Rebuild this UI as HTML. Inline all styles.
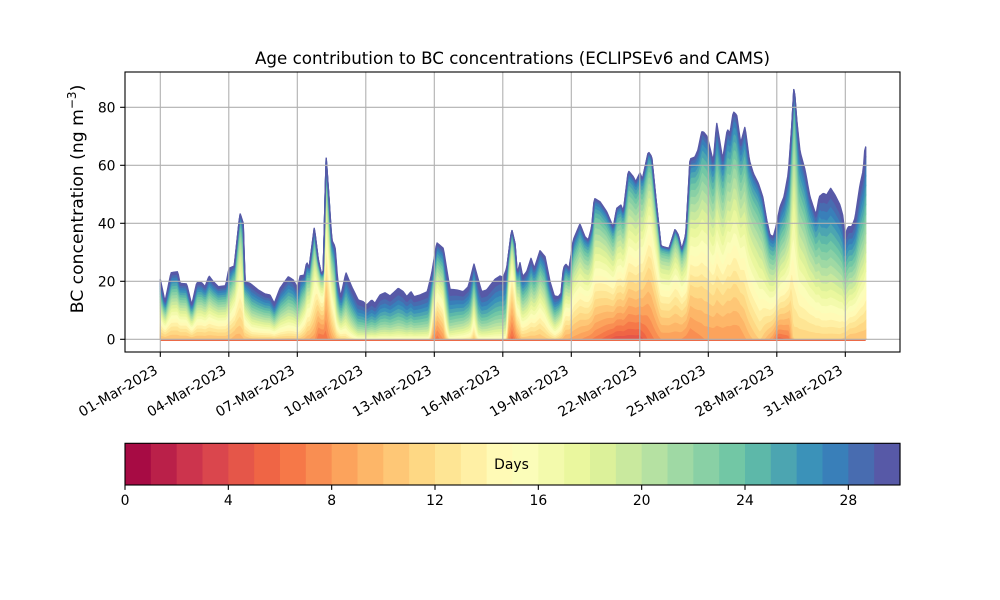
<!DOCTYPE html>
<html>
<head>
<meta charset="utf-8">
<style>
html,body{margin:0;padding:0;background:#fff;}
svg{display:block;}
text{font-family:"DejaVu Sans","Liberation Sans",sans-serif;fill:#000;}
</style>
</head>
<body>
<svg id="svg" width="1000" height="600" viewBox="0 0 1000 600" xmlns="http://www.w3.org/2000/svg">
<rect x="0" y="0" width="1000" height="600" fill="#fff"/>
<g id="layers"></g>
<line x1="160.3" y1="340.3" x2="865.7" y2="340.3" stroke="#ec6a48" stroke-width="1.5"/>
<g id="grid" stroke="#b0b0b0" stroke-width="1.1">
<line x1="125" y1="339.3" x2="900" y2="339.3"/>
<line x1="125" y1="281.3" x2="900" y2="281.3"/>
<line x1="125" y1="223.3" x2="900" y2="223.3"/>
<line x1="125" y1="165.3" x2="900" y2="165.3"/>
<line x1="125" y1="107.3" x2="900" y2="107.3"/>
<line x1="160.3" y1="72" x2="160.3" y2="352"/>
<line x1="228.8" y1="72" x2="228.8" y2="352"/>
<line x1="297.3" y1="72" x2="297.3" y2="352"/>
<line x1="365.8" y1="72" x2="365.8" y2="352"/>
<line x1="434.3" y1="72" x2="434.3" y2="352"/>
<line x1="502.8" y1="72" x2="502.8" y2="352"/>
<line x1="571.3" y1="72" x2="571.3" y2="352"/>
<line x1="639.8" y1="72" x2="639.8" y2="352"/>
<line x1="708.3" y1="72" x2="708.3" y2="352"/>
<line x1="776.8" y1="72" x2="776.8" y2="352"/>
<line x1="845.3" y1="72" x2="845.3" y2="352"/>
</g>
<rect x="125" y="72" width="775" height="280" fill="none" stroke="#000" stroke-width="1.1"/>
<g stroke="#000" stroke-width="1.1">
<line x1="120.1" y1="339.3" x2="125" y2="339.3"/>
<line x1="120.1" y1="281.3" x2="125" y2="281.3"/>
<line x1="120.1" y1="223.3" x2="125" y2="223.3"/>
<line x1="120.1" y1="165.3" x2="125" y2="165.3"/>
<line x1="120.1" y1="107.3" x2="125" y2="107.3"/>
<line x1="160.3" y1="352" x2="160.3" y2="356.9"/>
<line x1="228.8" y1="352" x2="228.8" y2="356.9"/>
<line x1="297.3" y1="352" x2="297.3" y2="356.9"/>
<line x1="365.8" y1="352" x2="365.8" y2="356.9"/>
<line x1="434.3" y1="352" x2="434.3" y2="356.9"/>
<line x1="502.8" y1="352" x2="502.8" y2="356.9"/>
<line x1="571.3" y1="352" x2="571.3" y2="356.9"/>
<line x1="639.8" y1="352" x2="639.8" y2="356.9"/>
<line x1="708.3" y1="352" x2="708.3" y2="356.9"/>
<line x1="776.8" y1="352" x2="776.8" y2="356.9"/>
<line x1="845.3" y1="352" x2="845.3" y2="356.9"/>
</g>
<g font-size="13.9" text-anchor="end">
<text x="115.5" y="344.3">0</text>
<text x="115.5" y="286.3">20</text>
<text x="115.5" y="228.3">40</text>
<text x="115.5" y="170.3">60</text>
<text x="115.5" y="112.3">80</text>
</g>
<g font-size="13.9" text-anchor="end">
<text transform="translate(158.7,372.9) rotate(-30)">01-Mar-2023</text>
<text transform="translate(227.2,372.9) rotate(-30)">04-Mar-2023</text>
<text transform="translate(295.7,372.9) rotate(-30)">07-Mar-2023</text>
<text transform="translate(364.2,372.9) rotate(-30)">10-Mar-2023</text>
<text transform="translate(432.7,372.9) rotate(-30)">13-Mar-2023</text>
<text transform="translate(501.2,372.9) rotate(-30)">16-Mar-2023</text>
<text transform="translate(569.7,372.9) rotate(-30)">19-Mar-2023</text>
<text transform="translate(638.2,372.9) rotate(-30)">22-Mar-2023</text>
<text transform="translate(706.7,372.9) rotate(-30)">25-Mar-2023</text>
<text transform="translate(775.2,372.9) rotate(-30)">28-Mar-2023</text>
<text transform="translate(843.7,372.9) rotate(-30)">31-Mar-2023</text>
</g>
<text x="512.5" y="64" font-size="16.7" text-anchor="middle">Age contribution to BC concentrations (ECLIPSEv6 and CAMS)</text>
<text transform="translate(83,199) rotate(-90)" font-size="17.2" text-anchor="middle">BC concentration (ng m<tspan font-size="12" dy="-7">−3</tspan><tspan dy="7">)</tspan></text>
<g id="cbar"></g>
<rect x="125" y="443.3" width="775" height="41.7" fill="none" stroke="#000" stroke-width="1.1"/>
<text x="511.5" y="469" font-size="13.9" text-anchor="middle">Days</text>
<g stroke="#000" stroke-width="1.1">
<line x1="125" y1="485" x2="125" y2="489.9"/>
<line x1="228.33" y1="485" x2="228.33" y2="489.9"/>
<line x1="331.67" y1="485" x2="331.67" y2="489.9"/>
<line x1="435" y1="485" x2="435" y2="489.9"/>
<line x1="538.33" y1="485" x2="538.33" y2="489.9"/>
<line x1="641.67" y1="485" x2="641.67" y2="489.9"/>
<line x1="745" y1="485" x2="745" y2="489.9"/>
<line x1="848.33" y1="485" x2="848.33" y2="489.9"/>
</g>
<g font-size="13.9" text-anchor="middle">
<text x="125" y="505">0</text>
<text x="228.33" y="505">4</text>
<text x="331.67" y="505">8</text>
<text x="435" y="505">12</text>
<text x="538.33" y="505">16</text>
<text x="641.67" y="505">20</text>
<text x="745" y="505">24</text>
<text x="848.33" y="505">28</text>
</g>
</svg>
<script>
(function(){
var NS="http://www.w3.org/2000/svg";
var anchors=[[158,1,66],[213,62,79],[244,109,67],[253,174,97],[254,224,139],[255,255,191],[230,245,152],[171,221,164],[102,194,165],[50,136,189],[94,79,162]];
function spectral(t){
  var p=t*10, i=Math.floor(p); if(i>=10){i=9;} var f=p-i;
  var a=anchors[i], b=anchors[i+1];
  return "rgb("+Math.round(a[0]+(b[0]-a[0])*f)+","+Math.round(a[1]+(b[1]-a[1])*f)+","+Math.round(a[2]+(b[2]-a[2])*f)+")";
}
var cols=[]; for(var k=0;k<30;k++){cols.push(spectral((k+0.5)/30));}
var cb=document.getElementById("cbar");
var sw=775/30;
for(var k=0;k<30;k++){
  var r=document.createElementNS(NS,"rect");
  r.setAttribute("x",(125+k*sw).toFixed(2));
  r.setAttribute("y","443.3");
  r.setAttribute("width",(sw+0.6).toFixed(2));
  r.setAttribute("height","41.7");
  r.setAttribute("fill",cols[k]);
  cb.appendChild(r);
}
var pts=[[160.3,279.5],[165,301.7],[171,272.7],[177.7,271.7],[180,283.3],[186.7,284],[191.7,305],[196.7,282.7],[201.7,282.7],[205,286.7],[209,276],[213.3,281.7],[218.3,286.7],[225.7,285.7],[229,268.3],[234.3,266],[240,213.3],[243.3,223.3],[245,281.7],[250,283.3],[258.3,290],[265,294],[270,295],[274.3,303.3],[280,288.3],[288.3,276.7],[293.3,280],[297.7,288.3],[300,276],[304.3,275],[306.7,261.7],[309,268.3],[314.3,227.3],[318.3,260],[321.7,275],[323.3,270],[326,156],[329,198.3],[331.7,240],[335,246.7],[337.7,280],[340.7,296.7],[346,272.7],[351.7,286.7],[358.3,300],[363.3,301.7],[366.7,305],[371.7,300],[375,303.3],[380,295],[385,292.7],[390,296],[398.3,288.3],[403.3,291.7],[406.7,296.7],[411,291.7],[414,296.7],[420,295],[427.3,291.7],[431.7,273.3],[436.7,242.7],[443.3,248.3],[447.3,273.3],[450,289.3],[456.7,290],[463.3,291.7],[468.3,286.7],[474,264],[479.3,283.3],[481.7,291.7],[486.7,290],[495,279.3],[500,276],[503.3,277.3],[506.7,268.3],[511.7,229.3],[515,243.3],[517.3,273.3],[520,262.7],[522.7,276.7],[526.7,271.7],[531,258.3],[534.3,268.3],[540,250.7],[545,256.7],[550,281.7],[554.3,296],[558.3,296.7],[561,293.3],[563.3,268.3],[565.7,264],[569,268.3],[573.3,240],[580,224],[585,236.7],[588.3,240],[591.7,227.3],[594.3,198.3],[600,201.7],[606.7,211.7],[613.3,227.3],[616.7,208.3],[621,205],[623.3,211.7],[628.3,170.7],[633.3,176.7],[635.7,181.7],[640,172.7],[642.3,179.3],[648.3,151.7],[651.7,156.7],[655.7,196.7],[661,246],[665,247.3],[669,248.3],[675,229.3],[678.3,235],[681.7,249.3],[685.7,235],[690,159],[695,157],[698,150],[701.7,132],[703.3,131.7],[707.3,136.7],[713.3,161.7],[716.7,122.7],[719.3,138.3],[722.7,159.3],[727.3,129.3],[730,133.3],[733.3,111.7],[736.7,115],[740.7,143.3],[745,126.7],[749.3,160],[753.3,173.3],[758.3,183.3],[762.7,196.7],[766.7,220],[770,235],[773.3,236.7],[776,226.7],[780,206.7],[784,196.7],[788.3,173.3],[791.7,126.7],[794,85.3],[796.7,120],[800,151.7],[805,170],[810,196.7],[816,215],[819.3,196.7],[823.3,193.3],[826.7,195],[830.7,188.3],[835,195],[840,205],[842.7,215],[845,235],[848.3,226.7],[851.7,226.7],[855,218.3],[860,185],[863.3,170],[865,146.7],[865.7,147]];
var par=[[160,10,0.9,1.1],[230,10,0.9,1.1],[235,9,1.1,1.8],[240,9,1.3,2.5],[245,10,1,1.3],[252,10,1.2,1],[300,10,1.2,1],[307,9,1.1,1.5],[314,8,1.2,2],[318,6,1,2],[322,6,1,2],[326,6,1.2,2.5],[331,8,1.1,1.8],[337,10,1.2,1.1],[346,11,1.3,1],[358,13,1.6,0.9],[428,13,1.6,0.9],[432,8,1,1.2],[437,6,1,1.3],[444,8,1,1.2],[450,13,1.6,0.9],[470,12,1.4,1],[474,10,1.2,1.5],[479,13,1.6,0.9],[505,13,1.6,0.9],[508,7,1.1,2],[512,5,1.2,2.5],[516,7,1.1,1.8],[522,10,1.1,1.1],[540,10,1,1.3],[555,11,1.2,1],[565,9,1,1.4],[580,8,1.1,1.6],[600,6,1.2,1.7],[615,4,1.3,1.8],[640,4,1.3,1.8],[648,6,1.1,2],[655,7,1.1,2.2],[662,8,1.1,2.3],[680,8,1.1,2.3],[690,7,1,1.5],[705,8,1,1.4],[740,8,1,1.4],[760,11,1.2,1.8],[772,8,1.2,1.5],[778,5,1.3,1.3],[789,6,1.3,1.3],[794,11,1.4,3],[799,11,1.1,1.4],[815,11,1.1,1.4],[822,11,1.1,1],[840,11,1.1,1],[850,10,1,1],[866,10,1,1]];
function interpPts(x){
  for(var i=0;i<pts.length-1;i++){
    if(x<=pts[i+1][0]){var a=pts[i],b=pts[i+1];var f=(x-a[0])/(b[0]-a[0]);if(f<0)f=0;return a[1]+(b[1]-a[1])*f;}
  }
  return pts[pts.length-1][1];
}
function interpPar(x){
  for(var i=0;i<par.length-1;i++){
    if(x<=par[i+1][0]){var a=par[i],b=par[i+1];var f=(x-a[0])/(b[0]-a[0]);if(f<0)f=0;
      return [a[1]+(b[1]-a[1])*f,a[2]+(b[2]-a[2])*f,a[3]+(b[3]-a[3])*f];}
  }
  var l=par[par.length-1];return [l[1],l[2],l[3]];
}
function Fcum(a,a0,p,q){
  if(a>=30)return 1;
  var eps=0.004;
  if(a<=a0)return eps*(a/a0);
  var u=(a-a0)/(30-a0);
  var F=1-Math.pow(1-Math.pow(u,p),q);
  return eps+(1-eps)*F;
}
var Y0=339.3, N=706, xs=[], cum=[];
for(var i=0;i<=N;i++){
  var x=160.3+i*(705.4/N); xs.push(x);
  var h=Y0-interpPts(x); var p=interpPar(x);
  var row=[]; for(var k=1;k<=30;k++){row.push(Y0-h*Fcum(k,p[0],p[1],p[2]));}
  cum.push(row);
}
var g=document.getElementById("layers");
for(var k=0;k<30;k++){
  var d="";
  for(var i=0;i<=N;i++){d+=(i==0?"M":"L")+xs[i].toFixed(1)+","+cum[i][k].toFixed(2);}
  for(var i=N;i>=0;i--){var lo=(k==0)?Y0:cum[i][k-1];d+="L"+xs[i].toFixed(1)+","+lo.toFixed(2);}
  d+="Z";
  var pa=document.createElementNS(NS,"path");
  pa.setAttribute("d",d);pa.setAttribute("fill",cols[k]);
  pa.setAttribute("stroke",cols[k]);pa.setAttribute("stroke-width","1.39");
  pa.setAttribute("stroke-linejoin","round");
  g.appendChild(pa);
}
})();
</script>
</body>
</html>
